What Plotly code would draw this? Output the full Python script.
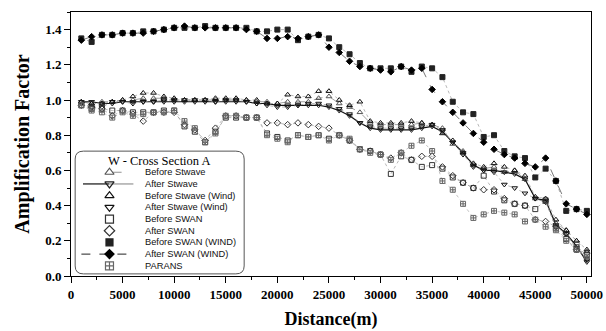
import plotly.graph_objects as go

distance = [1000 * k for k in range(1, 51)]

before_swan_wind = [1.35,1.33,1.37,1.37,1.38,1.38,1.39,1.39,1.40,1.41,1.41,1.41,1.42,1.41,1.41,1.41,1.41,1.39,1.39,1.40,
                    1.40,1.34,1.36,1.37,1.35,1.30,1.26,1.21,1.18,1.18,1.18,1.19,1.16,1.19,1.18,1.13,0.99,0.93,0.92,0.79,
                    0.80,0.71,0.68,0.67,0.56,0.61,0.54,0.37,0.38,0.37]
after_swan_wind = [1.34,1.36,1.37,1.37,1.38,1.38,1.38,1.39,1.40,1.41,1.42,1.41,1.41,1.41,1.41,1.41,1.40,1.39,1.35,1.35,
                   1.36,1.35,1.36,1.37,1.30,1.27,1.22,1.19,1.18,1.17,1.16,1.19,1.17,1.18,1.06,0.99,0.93,0.87,0.81,0.76,
                   0.72,0.69,0.67,0.64,0.62,0.67,0.54,0.41,0.38,0.35]
after_stwave = [0.99,0.99,0.98,0.98,0.99,0.99,0.99,0.99,0.99,0.99,0.99,0.99,0.99,0.99,0.99,0.99,0.99,0.98,0.98,0.97,
                0.97,0.97,0.97,0.97,0.96,0.94,0.91,0.87,0.84,0.83,0.83,0.83,0.83,0.84,0.85,0.82,0.76,0.70,0.63,0.60,
                0.60,0.59,0.58,0.55,0.44,0.43,0.29,0.24,0.17,0.08]
before_stwave = [0.99,0.98,0.99,0.99,1.00,1.00,1.01,1.01,1.01,1.00,1.00,1.00,1.00,1.00,1.00,1.00,1.00,0.99,0.99,0.98,
                 0.99,0.99,0.99,1.01,1.02,0.98,0.96,0.93,0.87,0.86,0.86,0.86,0.86,0.87,0.86,0.84,0.75,0.71,0.63,0.61,
                 0.62,0.59,0.60,0.55,0.44,0.42,0.30,0.26,0.20,0.14]
before_stwave_wind = [0.99,0.98,0.98,0.99,1.00,1.02,1.04,1.04,1.02,1.01,1.00,1.00,1.00,1.01,1.01,1.01,1.00,1.00,0.98,0.98,
                      1.03,1.02,1.02,1.05,1.05,1.00,0.97,0.99,0.88,0.87,0.87,0.87,0.88,0.87,0.86,0.81,0.77,0.70,0.64,0.62,
                      0.64,0.62,0.60,0.57,0.45,0.44,0.32,0.26,0.20,0.15]
after_stwave_wind = [0.98,0.96,0.96,0.99,0.99,0.98,0.99,0.99,1.00,1.00,1.00,1.00,1.00,0.99,1.00,1.00,0.99,0.98,0.97,0.96,
                     0.96,0.97,0.98,0.98,0.97,0.95,0.92,0.87,0.85,0.84,0.84,0.84,0.84,0.85,0.86,0.83,0.76,0.69,0.62,0.60,
                     0.59,0.52,0.50,0.47,0.44,0.42,0.28,0.24,0.16,0.09]
after_swan = [0.97,0.96,0.95,0.91,0.94,0.92,0.88,0.93,0.93,0.93,0.86,0.83,0.77,0.84,0.91,0.91,0.90,0.90,0.87,0.87,
              0.86,0.87,0.86,0.85,0.84,0.80,0.77,0.72,0.71,0.69,0.67,0.70,0.66,0.68,0.68,0.62,0.57,0.53,0.50,0.49,
              0.49,0.44,0.41,0.40,0.32,0.31,0.28,0.24,0.15,0.13]
before_swan = [0.97,0.95,0.95,0.94,0.94,0.93,0.93,0.93,0.94,0.94,0.85,0.82,0.76,0.82,0.90,0.90,0.90,0.90,0.81,0.79,
               0.77,0.80,0.79,0.80,0.78,0.80,0.77,0.72,0.71,0.69,0.58,0.68,0.66,0.62,0.63,0.61,0.56,0.53,0.50,0.57,
               0.48,0.43,0.41,0.40,0.38,0.43,0.27,0.21,0.15,0.12]
parans = [0.97,0.94,0.93,0.90,0.93,0.91,0.92,0.93,0.93,0.94,0.88,0.84,0.76,0.81,0.91,0.91,0.90,0.90,0.80,0.78,
          0.76,0.80,0.79,0.80,0.77,0.80,0.78,0.72,0.70,0.69,0.66,0.70,0.74,0.77,0.71,0.54,0.49,0.41,0.33,0.35,
          0.37,0.36,0.35,0.31,0.32,0.28,0.26,0.20,0.15,0.11]

x_tick_vals = list(range(0, 50001, 5000))
x_tick_text = [str(v) for v in x_tick_vals]
y_tick_vals = [0, 0.2, 0.4, 0.6, 0.8, 1.0, 1.2, 1.4]
y_tick_text = ["0.0", "0.2", "0.4", "0.6", "0.8", "1.0", "1.2", "1.4"]

legend_title = "W - Cross Section A"

# name, values, symbol, marker colour, line style in plot
series = [
    ("Before Stwave", before_stwave, "triangle-up-open", "#555555", dict(color="#888888", width=0.8, dash="dash")),
    ("After Stwave", after_stwave, "triangle-down-open", "#222222", dict(color="#111111", width=1.2, dash="solid")),
    ("Before Stwave (Wind)", before_stwave_wind, "triangle-up-open", "#111111", dict(color="#999999", width=0.7, dash="dot")),
    ("After Stwave (Wind)", after_stwave_wind, "triangle-down-open", "#111111", dict(color="#999999", width=0.7, dash="dot")),
    ("Before SWAN", before_swan, "square-open", "#333333", dict(color="#999999", width=0.7, dash="dot")),
    ("After SWAN", after_swan, "diamond-open", "#333333", dict(color="#999999", width=0.7, dash="dot")),
    ("Before SWAN (WIND)", before_swan_wind, "square", "#222222", dict(color="#999999", width=0.7, dash="dot")),
    ("After SWAN (WIND)", after_swan_wind, "diamond", "#000000", dict(color="#555555", width=0.8, dash="dash")),
    ("PARANS", parans, "square-cross-open", "#666666", dict(color="#aaaaaa", width=0.7, dash="dot")),
]

fig = go.Figure()
for name, vals, sym, col, line in series:
    fig.add_trace(go.Scatter(
        x=distance, y=vals, name=name, mode="lines+markers",
        marker=dict(symbol=sym, size=5, color=col, line=dict(color=col, width=1)),
        line=line, showlegend=False,
    ))

# ---- hand-drawn legend box (overlay axes 0..1) ----
lx0, lx1, ly0, ly1 = 0.008, 0.333, 0.008, 0.473
rx, ry = 0.016, 0.03
path = (f"M {lx0+rx},{ly1} L {lx1-rx},{ly1} Q {lx1},{ly1} {lx1},{ly1-ry} "
        f"L {lx1},{ly0+ry} Q {lx1},{ly0} {lx1-rx},{ly0} L {lx0+rx},{ly0} "
        f"Q {lx0},{ly0} {lx0},{ly0+ry} L {lx0},{ly1-ry} Q {lx0},{ly1} {lx0+rx},{ly1} Z")
fig.add_shape(type="path", path=path, xref="paper", yref="paper",
              line=dict(color="#555555", width=1), fillcolor="white", layer="below")

fig.add_annotation(x=(lx0 + lx1) / 2, y=0.436, xref="paper", yref="paper", text=legend_title,
                   showarrow=False, font=dict(family="Liberation Serif", size=12.5, color="black"),
                   xanchor="center", yanchor="middle")

row_top, row_step = 0.393, 0.0443
sym_x, text_x = 0.074, 0.138
for i, (name, vals, sym, col, line) in enumerate(series):
    yy = row_top - i * row_step
    if name == "Before Stwave":
        fig.add_trace(go.Scatter(x=[sym_x + 0.006, 0.113], y=[yy, yy], xaxis="x2", yaxis="y2", mode="lines",
                                 line=dict(color="#777777", width=0.8, dash="dash"), showlegend=False, hoverinfo="skip"))
    if name == "After Stwave":
        fig.add_trace(go.Scatter(x=[0.023, sym_x], y=[yy, yy], xaxis="x2", yaxis="y2", mode="lines",
                                 line=dict(color="#111111", width=1.2), showlegend=False, hoverinfo="skip"))
        fig.add_trace(go.Scatter(x=[sym_x, 0.12], y=[yy, yy], xaxis="x2", yaxis="y2", mode="lines",
                                 line=dict(color="#aaaaaa", width=1.5), showlegend=False, hoverinfo="skip"))
    if name == "After SWAN (WIND)":
        fig.add_trace(go.Scatter(x=[0.02, 0.123], y=[yy, yy], xaxis="x2", yaxis="y2", mode="lines",
                                 line=dict(color="#222222", width=1, dash="dash"), showlegend=False, hoverinfo="skip"))
    fig.add_trace(go.Scatter(x=[sym_x], y=[yy], xaxis="x2", yaxis="y2", mode="markers",
                             marker=dict(symbol=sym, size=8 if "open" in sym else 7, color=col,
                                         line=dict(color=col, width=1.2)),
                             showlegend=False, hoverinfo="skip"))
    fig.add_annotation(x=text_x, y=yy, xref="paper", yref="paper", text=name, showarrow=False,
                       font=dict(family="Liberation Sans", size=9.3, color="#111111"),
                       xanchor="left", yanchor="middle")

fig.update_layout(
    width=606, height=331,
    margin=dict(l=71, r=15, t=12, b=55, autoexpand=False),
    paper_bgcolor="white", plot_bgcolor="white",
    showlegend=False,
    xaxis=dict(
        range=[0, 50400], tickmode="array", automargin=False,
        tickvals=x_tick_vals, ticktext=x_tick_text,
        ticks="outside", ticklen=6, tickwidth=1, tickcolor="black",
        minor=dict(dtick=2500, ticks="outside", ticklen=3, tickcolor="black"),
        showline=True, linecolor="black", linewidth=1, mirror=True,
        showgrid=False, zeroline=False,
        tickfont=dict(family="Liberation Serif", size=13, color="black", weight="bold"),
        title=dict(text="<b>Distance(m)</b>", font=dict(family="Liberation Serif", size=18, color="black"), standoff=11),
    ),
    yaxis=dict(
        range=[0, 1.5], tickmode="array", automargin=False,
        tickvals=y_tick_vals, ticktext=y_tick_text,
        ticks="outside", ticklen=6, tickwidth=1, tickcolor="black",
        minor=dict(dtick=0.1, ticks="outside", ticklen=3, tickcolor="black"),
        showline=True, linecolor="black", linewidth=1, mirror=True,
        showgrid=False, zeroline=False,
        tickfont=dict(family="Liberation Serif", size=13, color="black", weight="bold"),
        title=dict(text="<b>Amplification Factor</b>", font=dict(family="Liberation Serif", size=20, color="black"), standoff=10),
    ),
    xaxis2=dict(overlaying="x", range=[0, 1], visible=False, fixedrange=True),
    yaxis2=dict(overlaying="y", range=[0, 1], visible=False, fixedrange=True),
)

fig.write_html("out.html")
